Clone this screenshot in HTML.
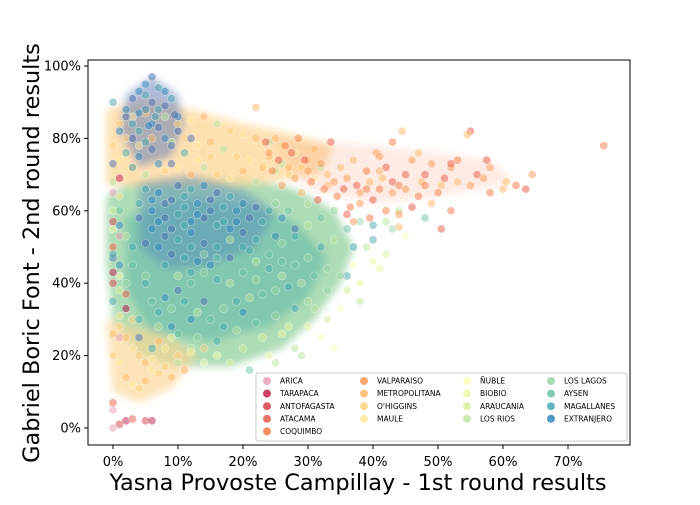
<!DOCTYPE html>
<html><head><meta charset="utf-8"><style>
body{margin:0;background:#fff}
svg{font-family:"DejaVu Sans","Liberation Sans",sans-serif}
</style></head><body>
<svg id="chart" width="700" height="500">
<defs><filter id="blur" x="-20%" y="-20%" width="140%" height="140%"><feGaussianBlur stdDeviation="4"/></filter></defs>
<rect x="0" y="0" width="700" height="500" fill="#fff"/>
<g id="hulls" filter="url(#blur)"></g>
<g id="points"></g>
<rect x="88" y="60" width="542" height="385" fill="none" stroke="#000" stroke-width="1"/>
<g id="xticks"></g>
<g id="yticks"></g>
<text x="358" y="490" font-size="22.4" text-anchor="middle">Yasna Provoste Campillay - 1st round results</text>
<text transform="translate(39,253) rotate(-90)" font-size="22.4" text-anchor="middle">Gabriel Boric Font - 2nd round results</text>
<g id="legend"></g>
</svg>
<script>
const xTicks=[0,10,20,30,40,50,60,70];
const yTicks=[0,20,40,60,80,100];
const regions=["ARICA","TARAPACA","ANTOFAGASTA","ATACAMA","COQUIMBO","VALPARAISO","METROPOLITANA","O'HIGGINS","MAULE","ÑUBLE","BIOBIO","ARAUCANIA","LOS RIOS","LOS LAGOS","AYSEN","MAGALLANES","EXTRANJERO"];
const regionColors=["#e8a0b4","#be1e4b","#d8404a","#e75a48","#f57a45","#f99a55","#fdb768","#fed27f","#fee99c","#fbfdbb","#eef7a6","#d8ef9a","#bce4a0","#98d5a4","#6cc3a5","#4aa9b0","#3288bd"];
const orangePts=[[75.5,78],[64.5,70],[63.5,66],[60.5,68],[58,65],[57,69],[55,82],[54.5,81],[53,74],[52,72],[51,69],[50.5,67],[50,65],[49,73],[48,70],[47.5,68],[47,64],[46,74],[45,70],[44.5,82],[44,67],[43,65],[42,72],[41.5,69],[41,66],[40.5,76],[40,63],[39.5,68],[39,71],[38,65],[37.5,67],[37,74],[36.5,61],[36,69],[35.5,66],[35,72],[34.5,64],[34,68],[33.5,79],[33,70],[32.5,66],[32,73],[31.5,63],[31,77],[30.5,68],[30,71],[29.5,74],[29,65],[28.5,80],[28,69],[27.5,76],[27,72],[26.5,78],[26,67],[25.5,74],[25,80],[24.5,71],[24,76],[23.5,79],[22,88.5],[42,60],[44,59],[46,61],[49,62],[52,60],[55,67],[56,70],[53,68],[48,67],[45,66],[43,68],[41,71],[39,66],[38,62],[36,59],[60,66],[62,67],[58,72],[50.5,55],[44,55.5],[39.5,58],[37,57],[57.5,74],[47,76],[43,79],[41,75],[52,73]];
const bluePts=[[5,95],[6,97],[7,94],[4,93],[3,91],[5,92],[8,93],[2,86],[3,84],[5,88],[6,90],[7,88],[4,87],[8,89],[9,91],[10,86],[3,80],[4,82],[6,84],[7,83],[5,79],[8,80],[9,78],[2,76],[4,75],[6,77],[0,90],[1,82],[10,82],[11,76],[7,73],[9,73],[3,72],[2,88],[9.5,86.5],[6.5,86],[5.5,83.5],[12,80],[5,66],[7,65],[9,63],[11,64],[13,62],[15,63],[17,61],[19,60],[21,58],[23,57],[6,60],[8,58],[10,59],[12,57],[14,58],[16,56],[18,55],[20,54],[22,52],[6,55],[8,53],[10,52],[12,54],[14,51],[16,50],[7,50],[9,48],[11,47],[13,46],[5,51],[4,62],[6,63],[10,67],[12,66],[14,67],[16,65],[18,64],[20,62],[22,61],[24,60],[26,58],[8,62],[11,61],[13,59],[15,60],[17,57],[19,57],[9,55],[11,56],[7,57],[4,58],[12,43],[15,45],[18,47],[21,49],[25,53],[28,55],[5,40],[8,36],[10,38],[7,32],[9,28],[4,25],[6,22],[12,30],[14,35],[17,28],[20,32],[2,33],[0,35],[1,45],[0,47],[0,48],[1,56],[0,73]];
const upperPts=[[1,84],[3,86],[5,87],[8,86],[10,84],[12,85],[14,86],[16,84],[18,82],[20,81],[22,80],[24,79],[26,78],[28,76],[30,74],[32,72],[2,80],[4,78],[6,80],[9,79],[11,80],[13,78],[15,79],[17,77],[19,75],[21,74],[23,72],[25,71],[27,70],[1,74],[3,72],[5,70],[8,71],[10,72],[12,70],[14,72],[16,70],[18,69],[20,71],[22,68],[15,75],[13,74],[24,75],[26,73],[29,72],[31,69],[33,67],[0,68],[0,78],[1,64]];
const lowerPts=[[1,28],[2,25],[3,22],[4,20],[5,18],[6,16],[7,15],[2,14],[3,12],[4,11],[5,13],[6,19],[8,17],[9,14],[1,18],[0,20],[0,26],[1,31],[3,30],[7,24],[8,22],[10,20],[11,16],[12,21],[14,22]];
const tealPts=[[3,45],[5,42],[8,45],[10,42],[12,40],[14,43],[16,41],[18,40],[20,43],[22,41],[24,44],[26,42],[28,45],[30,47],[32,50],[34,52],[36,55],[38,57],[40,56],[42,57],[6,35],[9,33],[11,35],[13,32],[15,30],[17,33],[19,35],[21,36],[23,37],[25,38],[27,39],[29,40],[31,42],[33,44],[4,30],[7,28],[10,26],[13,25],[16,24],[19,27],[22,29],[25,31],[28,33],[30,35],[24,48],[26,51],[28,53],[30,56],[32,58],[34,60],[20,50],[18,52],[16,47],[14,48],[12,50],[22,46],[26,46],[33,38],[36,42],[25,18],[21,16],[35,42],[40,52],[44,60],[48,58],[43,55],[37,50],[30,62],[27,60],[25,62],[3,50],[2,53],[1,60],[2,40]];
const lightPts=[[30,28],[33,30],[35,33],[38,35],[40,46],[36,38],[32,25],[28,22],[24,20],[18,18],[14,18],[10,18],[26,26],[20,22],[34,22],[29,20],[38,40],[42,48],[45,53],[31,33],[27,28],[23,25],[16,20],[12,22],[9,25],[1,38],[1,42],[0,50],[0,55],[0,60],[37,45],[39,50],[41,44]];
const redPts=[[0,5],[1,1],[2,2],[3,2.5],[0,0],[5,2],[6,2],[0,7],[1,25],[0,40],[0,43],[0,50],[1,53],[0,57],[1,69],[2,37],[0,65],[2,33]];
const hullUpper=[[-1,88],[5,91],[12,88],[20,84],[28,81],[34,78],[32,70],[20,67],[10,67],[-1,67]];
const hullCore=[[-1,64],[3,68],[10,69],[20,69],[28,66],[34,60],[37,50],[35,40],[31,30],[26,22],[18,17],[10,17],[4,20],[0,30],[-1,45]];
const hullTeal=[[2,58],[10,63],[20,62],[28,57],[33,47],[30,36],[24,28],[15,24],[6,26],[2,38]];
const hullBlue=[[4,68],[12,70],[20,66],[25,60],[22,50],[15,45],[8,44],[4,50]];
const hullBlueTop=[[2,92],[6,97],[10,92],[11,84],[9,75],[4,72],[1,82]];
const hullLower=[[-1,30],[0,10],[4,7],[9,11],[13,20],[8,26]];
const hullOrange=[[24,80],[40,78],[50,76],[58,74],[62,68],[50,64],[40,62],[30,66]];

const NS="http://www.w3.org/2000/svg";
const X=v=>113+6.5*v, Y=v=>428-3.62*v;
function mk(t,a,p){const e=document.createElementNS(NS,t);for(const k in a)e.setAttribute(k,a[k]);p.appendChild(e);return e;}
const hg=document.getElementById('hulls');
[[hullCore,"#9fd6a8",.85],[hullUpper,"#fdd797",.75],[hullTeal,"#6bbfaa",.65],[hullBlue,"#4a82be",.42],[hullBlueTop,"#5a78b8",.5],[hullLower,"#fbd592",.65],[hullOrange,"#f9a57e",.22]].forEach(h=>{
  const p=mk('polygon',{points:h[0].map(q=>X(q[0])+','+Y(q[1])).join(' '),fill:h[1],opacity:h[2]},hg);
  
  
});
const pg=document.getElementById('points');
[[lightPts,["#eef7a6","#d8ef9a","#fbfdbb","#bce4a0"]],[lowerPts,["#fed27f","#fdb768","#fee99c"]],[upperPts,["#fed27f","#fee99c","#fdb768","#bce4a0"]],[tealPts,["#6cc3a5","#98d5a4","#4aa9b0","#bce4a0"]],[bluePts,["#3288bd","#4a6fb0","#4aa9b0"]],[orangePts,["#f57a45","#f99a55","#e75a48","#fdb768"]],[redPts,["#e8a0b4","#d8404a","#be1e4b","#e75a48"]]].forEach(g=>{
  g[0].forEach((q,i)=>{
    const c=mk('circle',{cx:X(q[0]),cy:Y(q[1]),r:4,fill:g[1][i%g[1].length],'fill-opacity':.5,stroke:'#fff','stroke-opacity':.5,'stroke-width':.6},pg);
    
    
  });
});
const xg=document.getElementById('xticks');
xTicks.forEach(v=>{
  mk('line',{x1:X(v),x2:X(v),y1:445,y2:449,stroke:'#000'},xg);
  const t=mk('text',{x:X(v),y:466,'font-size':13,'text-anchor':'middle'},xg);t.textContent=v+'%';
  
  
});
const yg=document.getElementById('yticks');
yTicks.forEach(v=>{
  mk('line',{x1:84,x2:88,y1:Y(v),y2:Y(v),stroke:'#000'},yg);
  const t=mk('text',{x:81,y:Y(v)+4.5,'font-size':13,'text-anchor':'end'},yg);t.textContent=v+'%';
  
  
});
const lg=document.getElementById('legend');
mk('rect',{x:256,y:373,width:371,height:68,rx:2,fill:'#fff','fill-opacity':.85,stroke:'#ccc'},lg);
const colX=[267,364,467,551];
const colLen=[5,4,4,4];
let idx=0;
colLen.forEach((n,c)=>{
  for(let r=0;r<n;r++){
    const y=381+r*12.6;
    mk('circle',{cx:colX[c],cy:y,r:4,fill:regionColors[idx],'fill-opacity':.85},lg);
    const t=mk('text',{x:colX[c]+13,y:y+2.6,'font-size':7.5},lg);t.textContent=regions[idx];
    
    
    idx++;
  }
});
</script>
</body></html>
